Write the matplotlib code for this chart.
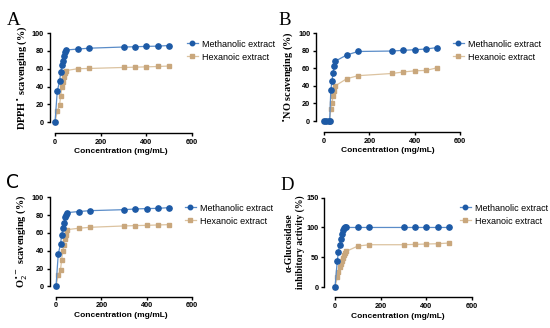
import matplotlib.pyplot as plt
import numpy as np

# concentrations (mg/mL)
conc_a = [0, 10, 20, 25, 30, 35, 40, 45, 50, 100, 150, 300, 350, 400, 450, 500]
conc_b = [0, 10, 20, 25, 30, 35, 40, 45, 50, 100, 150, 300, 350, 400, 450, 500]
conc_c = [0, 10, 20, 25, 30, 35, 40, 45, 50, 100, 150, 300, 350, 400, 450, 500]
conc_d = [0, 10, 15, 20, 25, 30, 35, 40, 45, 50, 100, 150, 300, 350, 400, 450, 500]

# A: DPPH scavenging
meth_a = [0, 35, 46, 56, 64, 69, 74.5, 79, 81, 82, 83, 84.3, 84.6, 85, 85.3, 86]
hex_a = [0, 12.5, 19, 30, 39.5, 45, 51, 55.5, 58, 60, 60.3, 61.4, 61.7, 62.1, 62.5, 63]
# B: NO scavenging
meth_b = [0, 0, 0, 0, 35, 45, 55, 63, 68, 75, 79, 79.5, 80.3, 81, 81.8, 83.5]
hex_b = [0, 0, 0, 0, 14, 21, 28, 34, 40, 48, 51.5, 54, 55.7, 57, 57.5, 60.5]
# C: superoxide scavenging
meth_c = [0, 36.3, 47.6, 57.7, 65, 71, 77.5, 80.5, 82.8, 84, 85, 86.1, 86.9, 87.3, 87.6, 88.4]
hex_c = [0, 12.7, 18.7, 30, 39.7, 46.4, 52.8, 58, 63.7, 65.2, 66.3, 67.8, 68.2, 68.5, 68.9, 69.3]
# D: alpha-glucosidase inhibition
meth_d = [0, 44, 59, 71, 80, 89, 96, 99.5, 100, 100, 100, 100, 100, 100, 100, 100, 100]
hex_d = [0, 16, 24.6, 33, 38.6, 44, 49, 54, 57.5, 60, 68.8, 71, 71, 71.6, 72.2, 72.7, 73.9]

labels = ["Methanolic extract", "Hexanoic extract"]

blue_m, blue_l = "#1d5aa6", "#5a8cc8"
tan_m, tan_l = "#c9a77c", "#dcc3a0"

W, H = 550, 328
fig = plt.figure(figsize=(5.5, 3.28), dpi=100, facecolor="white")


def panel(px_spine, px_x0, px_x600, py_top, py_zero, py_axis, ymax, ystep,
          x, m, h, ylabel, letter, letter_xy, letter_font, leg_xy, ylab_x,
          ylab_size=7.4):
    left = px_spine / W
    right = px_x600 / W
    top = 1 - py_top / H
    bottom = 1 - py_axis / H
    ax = fig.add_axes([left, bottom, right - left, top - bottom])
    ppu = (px_x600 - px_x0) / 600.0
    xlo = -(px_x0 - px_spine) / ppu
    ax.set_xlim(xlo, 600)
    ypu = (py_zero - py_top) / ymax
    ylo = -(py_axis - py_zero) / ypu
    ax.set_ylim(ylo, ymax)

    ax.plot(x, m, "-", color=blue_l, lw=0.9, marker="o", ms=3.8,
            mfc=blue_m, mec=blue_m, label=labels[0], clip_on=False, zorder=3)
    ax.plot(x, h, "-", color=tan_l, lw=0.9, marker="s", ms=3.4,
            mfc=tan_m, mec=tan_m, label=labels[1], clip_on=False, zorder=2)

    for s in ["top", "right"]:
        ax.spines[s].set_visible(False)
    ax.spines["left"].set_bounds(0, ymax)
    ax.spines["bottom"].set_bounds(0, 600)
    for s in ["left", "bottom"]:
        ax.spines[s].set_linewidth(1.0)
    ax.set_xticks([0, 200, 400, 600])
    ax.set_yticks(np.arange(0, ymax + 1, ystep))
    ax.tick_params(width=1.0, length=2.5, pad=1.5, labelsize=5.3)
    for t in ax.get_xticklabels() + ax.get_yticklabels():
        t.set_fontweight("bold")
        t.set_family("Liberation Sans")
    ax.set_xlabel("Concentration (mg/mL)", fontsize=6.0, fontweight="bold",
                  family="Liberation Sans", labelpad=2)
    fig.text(ylab_x / W, 1 - ((py_top + py_zero) / 2) / H, ylabel,
             rotation=90, ha="center", va="center", fontsize=ylab_size,
             fontweight="bold", family="Liberation Serif", linespacing=1.3)
    fig.text(letter_xy[0] / W, 1 - letter_xy[1] / H, letter, fontsize=13.5,
             family=letter_font, ha="left", va="baseline")
    ax.legend(loc="upper left", bbox_to_anchor=(leg_xy[0] / W, 1 - leg_xy[1] / H),
              bbox_transform=fig.transFigure, frameon=False, borderpad=0,
              handlelength=1.3, handletextpad=0.45, labelspacing=0.45,
              markerscale=0.85, prop={"family": "Liberation Sans", "size": 6.5})
    return ax


panel(49.5, 55, 192, 33, 122.3, 133, 100, 20, conc_a, meth_a, hex_a,
      "DPPH$^{\\bullet}$ scavenging (%)", "A", (7, 25), "Liberation Serif",
      (182, 35), 22)
panel(315.7, 324, 460, 33, 121, 132, 100, 20, conc_b, meth_b, hex_b,
      "$^{\\bullet}$NO scavenging (%)", "B", (278, 25), "Liberation Serif",
      (448, 35), 288)
panel(49.5, 56, 192, 197.3, 286.3, 296.7, 100, 20, conc_c, meth_c, hex_c,
      "O$_2^{\\bullet-}$ scavenging (%)", "C", (6, 188), "DejaVu Sans",
      (180, 199), 22)
panel(324.3, 335, 472, 197.7, 287, 297.3, 150, 50, conc_d, meth_d, hex_d,
      "\u03b1-Glucosidase\ninhibitory activity (%)", "D", (280, 190),
      "Liberation Serif", (455, 199), 295, ylab_size=7.0)

plt.savefig("out.png", dpi=100, facecolor="white")
